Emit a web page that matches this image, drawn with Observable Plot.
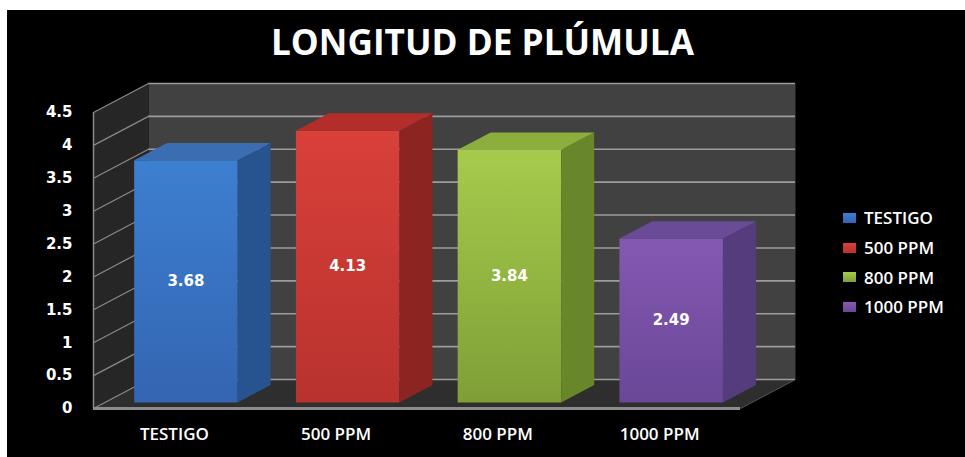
<!DOCTYPE html>
<html>
<head>
<meta charset="utf-8">
<script src="https://cdn.jsdelivr.net/npm/d3@7"></script>
<script src="https://cdn.jsdelivr.net/npm/@observablehq/plot@0.6"></script>
<style>
  html, body { margin: 0; padding: 0; background: #ffffff; }
  #stage { position: relative; width: 965px; height: 457px; overflow: hidden; }
  #bg { position: absolute; left: 7px; top: 10px; right: 0; bottom: 0; background: #000; }
  #chart { position: absolute; left: 0; top: 0; }
  #title { position: absolute; left: 0; top: 17px; width: 965px; text-align: center;
           color: #fff; font-family: "Open Sans", sans-serif; font-weight: 700; font-size: 36px;
           white-space: nowrap; }
  #title span { display: inline-block; transform-origin: center; }
  #legend { position: absolute; left: 843px; top: 203px; color: #fff;
            font-family: "Open Sans", sans-serif; font-weight: 600; font-size: 17px; }
  .lg { height: 29.7px; display: flex; align-items: center; }
  .sw { width: 13px; height: 10px; margin-right: 8px; }
</style>
</head>
<body>
<div id="stage">
  <div id="bg"></div>
  <div id="chart"></div>
  <div id="title"><span>LONGITUD DE PLÚMULA</span></div>
  <div id="legend"></div>
</div>
<script>
// ---- data ----
const categories = ["TESTIGO", "500 PPM", "800 PPM", "1000 PPM"];
const values = [3.68, 4.13, 3.84, 2.49];
const yTicks = [0, 0.5, 1, 1.5, 2, 2.5, 3, 3.5, 4, 4.5];
const frontTop = ["#3d7fd0", "#d9403a", "#a6cb4c", "#8459b2"];
const frontBottom = ["#3365b2", "#b8322e", "#7f9f36", "#6a4797"];
const sideColors = ["#27538f", "#8c2522", "#68872a", "#553c7c"];
const topColors = ["#3b6db3", "#b32e2a", "#8cae3c", "#6a4b98"];

// ---- layout constants (pixels) ----
const W = 965, H = 457;
const mL = 93, mR = 170, mT = 83, mB = 49;
const depthPx = [55, 29];       // wall depth offset
const yMax = 4.5;
const nCat = categories.length;
const catPx = (W - mL - mR - depthPx[0]) / nCat;
const unitPx = (H - mT - mB - depthPx[1]) / yMax;
const DX = depthPx[0] / catPx;  // depth in x data units
const DY = depthPx[1] / unitPx; // depth in y data units
const t0 = 0.21, t1 = 0.81;     // bar depth span (fraction of wall depth)
const barW = 0.64;

const polys = [];
function poly(id, fill, pts) { pts.forEach(([x, y]) => polys.push({id, fill, x, y})); }

// walls
poly("back", "#414141", [[DX, DY], [nCat + DX, DY], [nCat + DX, yMax + DY], [DX, yMax + DY]]);
poly("side", "#262626", [[0, 0], [DX, DY], [DX, yMax + DY], [0, yMax]]);
poly("floor", "#2e2e2e", [[0, 0], [nCat, 0], [nCat + DX, DY], [DX, DY]]);

const barPolys = [];
function bpoly(id, fill, pts) { pts.forEach(([x, y]) => barPolys.push({id, fill, x, y})); }
values.forEach((v, i) => {
  const x1 = i + 0.5 - barW / 2 + t0 * DX, x2 = x1 + barW;
  const y0 = t0 * DY, yb = t1 * DY, ddx = (t1 - t0) * DX;
  bpoly("f" + i, `url(#gf${i})`, [[x1, y0], [x2, y0], [x2, v + y0], [x1, v + y0]]);
  bpoly("s" + i, sideColors[i], [[x2, y0], [x2 + ddx, yb], [x2 + ddx, v + yb], [x2, v + y0]]);
  bpoly("t" + i, topColors[i], [[x1, v + y0], [x2, v + y0], [x2 + ddx, v + yb], [x1 + ddx, v + yb]]);
});

const labels = values.map((v, i) => ({x: i + 0.5 + t0 * DX, y: v / 2 + t0 * DY, text: v.toFixed(2)}));

const plot = Plot.plot({
  width: W, height: H,
  marginLeft: mL, marginRight: mR, marginTop: mT, marginBottom: mB,
  style: {background: "none", color: "#fff"},
  x: {type: "linear", domain: [0, nCat + DX], label: null},
  y: {type: "linear", domain: [0, yMax + DY], label: null},
  color: {type: "identity"},
  marks: [
    Plot.line(polys, {x: "x", y: "y", z: "id", fill: "fill", stroke: "none"}),
    Plot.ruleY(yTicks, {y: d => d + DY, x1: DX, x2: nCat + DX, stroke: "#9c9c9c", strokeWidth: 1.6}),
    Plot.link(yTicks, {x1: 0, y1: d => d, x2: DX, y2: d => d + DY, stroke: "#8a8a8a", strokeWidth: 1.2}),
    Plot.ruleX([0], {y1: 0, y2: yMax, stroke: "#8a8a8a", strokeWidth: 1.5}),
    Plot.link([0], {x1: nCat, y1: 0, x2: nCat + DX, y2: DY, stroke: "#555", strokeWidth: 1}),
    Plot.ruleY([0], {x1: 0, x2: nCat, stroke: "#8c8c8c", strokeWidth: 3}),
    Plot.line(barPolys, {x: "x", y: "y", z: "id", fill: "fill", stroke: "none"}),
    Plot.text(labels, {x: "x", y: "y", text: "text", fill: "#fff", fontSize: 15, fontWeight: "bold",
                       fontFamily: "DejaVu Sans"}),
    Plot.axisY(yTicks, {label: null, tickSize: 0, tickPadding: 21, tickFormat: d => String(d), fill: "#fff",
                        fontSize: 15, fontWeight: "bold", fontFamily: "DejaVu Sans"}),
    Plot.axisX(categories.map((c, i) => i + 0.5), {label: null, tickSize: 0, tickPadding: 19,
                        tickFormat: d => categories[Math.floor(d)], fill: "#fff",
                        fontSize: 17, fontWeight: 600, fontFamily: "Open Sans"})
  ]
});

// gradients for bar fronts
const ns = "http://www.w3.org/2000/svg";
const defs = document.createElementNS(ns, "defs");
frontTop.forEach((c, i) => {
  const g = document.createElementNS(ns, "linearGradient");
  g.setAttribute("id", "gf" + i);
  g.setAttribute("x1", "0"); g.setAttribute("y1", "0"); g.setAttribute("x2", "0"); g.setAttribute("y2", "1");
  [[0, c], [1, frontBottom[i]]].forEach(([o, col]) => {
    const s = document.createElementNS(ns, "stop");
    s.setAttribute("offset", o); s.setAttribute("stop-color", col);
    g.appendChild(s);
  });
  defs.appendChild(g);
});
plot.insertBefore(defs, plot.firstChild);
document.getElementById("chart").appendChild(plot);

// legend
const lg = document.getElementById("legend");
categories.forEach((c, i) => {
  const row = document.createElement("div");
  row.className = "lg";
  const sw = document.createElement("div");
  sw.className = "sw";
  sw.style.background = `linear-gradient(${frontTop[i]}, ${frontBottom[i]})`;
  row.appendChild(sw);
  const t = document.createElement("span");
  t.textContent = c;
  row.appendChild(t);
  lg.appendChild(row);
});

// fit title width
const ts = document.querySelector("#title span");
const w = ts.getBoundingClientRect().width;
ts.style.transform = `scaleX(${423 / w})`;
</script>
</body>
</html>
